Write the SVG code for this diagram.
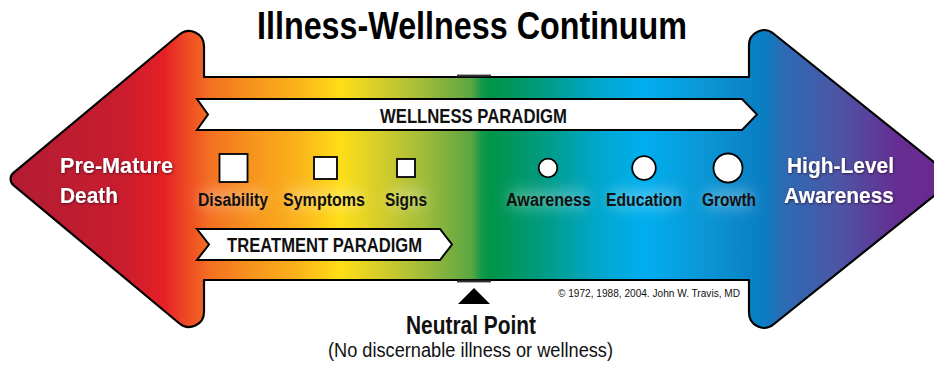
<svg xmlns="http://www.w3.org/2000/svg" width="934" height="368" viewBox="0 0 934 368">
  <defs>
    <linearGradient id="spectrum" gradientUnits="userSpaceOnUse" x1="0" y1="0" x2="934" y2="0">
      <stop offset="0" stop-color="#b01c34"/>
      <stop offset="0.13" stop-color="#c81d2e"/>
      <stop offset="0.175" stop-color="#e51f26"/>
      <stop offset="0.2" stop-color="#ee4a24"/>
      <stop offset="0.225" stop-color="#f37021"/>
      <stop offset="0.27" stop-color="#f7941d"/>
      <stop offset="0.32" stop-color="#fbb41b"/>
      <stop offset="0.365" stop-color="#fede17"/>
      <stop offset="0.41" stop-color="#d2cc2c"/>
      <stop offset="0.455" stop-color="#9fbb3b"/>
      <stop offset="0.505" stop-color="#5aa643"/>
      <stop offset="0.515" stop-color="#169a48"/>
      <stop offset="0.525" stop-color="#009447"/>
      <stop offset="0.58" stop-color="#009b80"/>
      <stop offset="0.64" stop-color="#00a7cc"/>
      <stop offset="0.69" stop-color="#00aeef"/>
      <stop offset="0.75" stop-color="#0a98d6"/>
      <stop offset="0.82" stop-color="#0b7cc1"/>
      <stop offset="0.835" stop-color="#2a6db5"/>
      <stop offset="0.9" stop-color="#4e54a4"/>
      <stop offset="0.96" stop-color="#652e92"/>
      <stop offset="1" stop-color="#6a2a90"/>
    </linearGradient>
    <filter id="glow" x="-20%" y="-80%" width="140%" height="260%">
      <feGaussianBlur stdDeviation="7"/>
    </filter>
    <filter id="shadow" x="-20%" y="-30%" width="140%" height="160%">
      <feDropShadow dx="0.6" dy="0.8" stdDeviation="1.2" flood-color="#2a0020" flood-opacity="0.75"/>
    </filter>
  </defs>
  <style>
    .outline { stroke: #000; stroke-width: 2.2; stroke-linejoin: round; }
    .banner { fill: #fff; stroke: #000; stroke-width: 2; stroke-linejoin: miter; }
    .marker { fill: #fff; stroke: #000; stroke-width: 1.8; }
    .halo { fill: #fff; opacity: 0.28; }
    text { font-family: "Liberation Sans", Arial, sans-serif; }
    .title { font-size: 39px; font-weight: bold; fill: #000; }
    .lbl { font-size: 18px; font-weight: bold; fill: #111; }
    .ban { font-size: 20px; font-weight: bold; fill: #111; }
    .end { font-size: 22px; font-weight: bold; fill: #fff; }
    .copy { font-size: 11px; fill: #111; }
    .np { font-size: 26px; font-weight: bold; fill: #111; }
    .sub { font-size: 20px; fill: #111; }
  </style>

  <g id="title">
    <text class="title" x="472" y="39" text-anchor="middle" textLength="430" lengthAdjust="spacingAndGlyphs">Illness-Wellness Continuum</text>
  </g>

  <g id="arrow">
    <path class="outline" fill="url(#spectrum)" d="M 13.4,172.9 L 179.4,34.5 A 15 15 0 0 1 204,46 L 204,77 L 749,77 L 749,45.2 A 15 15 0 0 1 773.4,33.5 L 955,179 L 773.4,324.5 A 15 15 0 0 1 749,312.8 L 749,280 L 204,280 L 204,312 A 15 15 0 0 1 179.4,323.5 L 13.4,185.1 A 8 8 0 0 1 13.4,172.9 Z"/>
    <rect x="457" y="74.6" width="34" height="2" fill="#333"/>
    <rect x="457" y="280.4" width="34" height="2" fill="#333"/>
    <g filter="url(#glow)">
      <rect class="halo" x="200" y="190" width="66" height="18" rx="8"/>
      <rect class="halo" x="285" y="190" width="78" height="18" rx="8"/>
      <rect class="halo" x="387" y="190" width="38" height="18" rx="8"/>
      <rect class="halo" x="508" y="190" width="81" height="18" rx="8"/>
      <rect class="halo" x="608" y="190" width="72" height="18" rx="8"/>
      <rect class="halo" x="704" y="190" width="50" height="18" rx="8"/>
    </g>
  </g>

  <g id="wellness-paradigm">
    <polygon class="banner" points="197,99 742,99 757,114.5 742,130 197,130 208,114.5"/>
    <text class="ban" x="473.5" y="123" text-anchor="middle" textLength="187" lengthAdjust="spacingAndGlyphs">WELLNESS PARADIGM</text>
  </g>

  <g id="treatment-paradigm">
    <polygon class="banner" points="197,229 440,229 452,244.5 440,260 197,260 209,244.5"/>
    <text class="ban" x="324.5" y="252" text-anchor="middle" textLength="195" lengthAdjust="spacingAndGlyphs">TREATMENT PARADIGM</text>
  </g>

  <g id="premature-death">
    <text class="end" x="60" y="173" textLength="113" lengthAdjust="spacingAndGlyphs" filter="url(#shadow)">Pre-Mature</text>
    <text class="end" x="60" y="203" textLength="58" lengthAdjust="spacingAndGlyphs" filter="url(#shadow)">Death</text>
  </g>

  <g id="high-level-awareness">
    <text class="end" x="840.5" y="173" text-anchor="middle" textLength="107" lengthAdjust="spacingAndGlyphs" filter="url(#shadow)">High-Level</text>
    <text class="end" x="839" y="203" text-anchor="middle" textLength="110" lengthAdjust="spacingAndGlyphs" filter="url(#shadow)">Awareness</text>
  </g>

  <g id="disability">
    <rect class="marker" x="219.5" y="154" width="28" height="28"/>
    <text class="lbl" x="233" y="206" text-anchor="middle" textLength="70" lengthAdjust="spacingAndGlyphs">Disability</text>
  </g>
  <g id="symptoms">
    <rect class="marker" x="314" y="157" width="23" height="22"/>
    <text class="lbl" x="324" y="206" text-anchor="middle" textLength="82" lengthAdjust="spacingAndGlyphs">Symptoms</text>
  </g>
  <g id="signs">
    <rect class="marker" x="397" y="159" width="18" height="18"/>
    <text class="lbl" x="406" y="206" text-anchor="middle" textLength="42" lengthAdjust="spacingAndGlyphs">Signs</text>
  </g>
  <g id="awareness">
    <circle class="marker" cx="548" cy="168" r="9.3"/>
    <text class="lbl" x="548.5" y="206" text-anchor="middle" textLength="85" lengthAdjust="spacingAndGlyphs">Awareness</text>
  </g>
  <g id="education">
    <circle class="marker" cx="644" cy="168" r="11.8"/>
    <text class="lbl" x="644" y="206" text-anchor="middle" textLength="76" lengthAdjust="spacingAndGlyphs">Education</text>
  </g>
  <g id="growth">
    <circle class="marker" cx="728" cy="168" r="14.5"/>
    <text class="lbl" x="729" y="206" text-anchor="middle" textLength="54" lengthAdjust="spacingAndGlyphs">Growth</text>
  </g>

  <g id="copyright">
    <text class="copy" x="558" y="297" textLength="182" lengthAdjust="spacingAndGlyphs">© 1972, 1988, 2004. John W. Travis, MD</text>
  </g>

  <g id="neutral-point">
    <polygon points="458,304 490,304 474,288" fill="#000"/>
    <text class="np" x="471" y="334" text-anchor="middle" textLength="130" lengthAdjust="spacingAndGlyphs">Neutral Point</text>
    <text class="sub" x="470.5" y="357" text-anchor="middle" textLength="285" lengthAdjust="spacingAndGlyphs">(No discernable illness or wellness)</text>
  </g>
</svg>
